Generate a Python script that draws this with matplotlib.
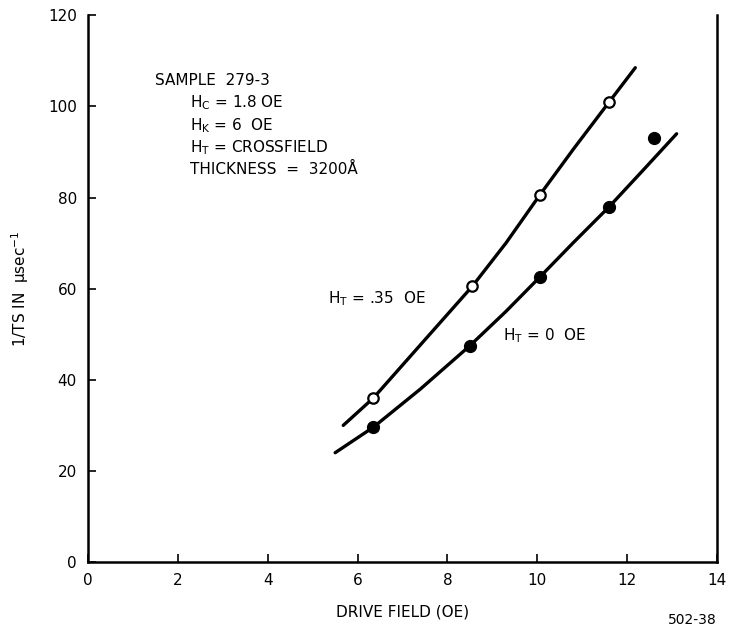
import matplotlib
matplotlib.use("Agg")
import matplotlib.pyplot as plt

plt.rcParams['font.family'] = 'DejaVu Sans'
plt.rcParams['mathtext.default'] = 'regular'

# measured points
drive_open = [6.35, 8.55, 10.05, 11.6]
rate_open = [36, 60.5, 80.5, 101]          # H_T = .35 OE
drive_filled = [6.35, 8.5, 10.05, 11.6, 12.6]
rate_filled = [29.6, 47.5, 62.5, 78, 93]   # H_T = 0 OE

# hand drawn fit curves
curve_hi_x = [5.68, 6.35, 7.4, 8.55, 9.3, 10.05, 10.8, 11.6, 12.18]
curve_hi_y = [30, 36, 47.7, 60.5, 70.0, 80.5, 90.6, 101, 108.5]
curve_lo_x = [5.5, 6.35, 7.4, 8.5, 9.3, 10.05, 10.8, 11.6, 12.4, 13.1]
curve_lo_y = [24, 29.6, 38.0, 47.5, 55.0, 62.5, 70.1, 78, 86.5, 94]

x_ticks = [0, 2, 4, 6, 8, 10, 12, 14]
y_ticks = [0, 20, 40, 60, 80, 100, 120]

fig = plt.figure(figsize=(7.4, 6.38), dpi=100)
ax = fig.add_axes([0.119, 0.119, 0.85, 0.857])

ax.plot(curve_hi_x, curve_hi_y, color='black', lw=2.4, solid_capstyle='round')
ax.plot(curve_lo_x, curve_lo_y, color='black', lw=2.4, solid_capstyle='round')
ax.plot(drive_open, rate_open, 'o', ms=7.5, mfc='white', mec='black', mew=1.6, ls='none')
ax.plot(drive_filled, rate_filled, 'o', ms=8.5, mfc='black', mec='black', ls='none')

ax.set_xlim(0, 14)
ax.set_ylim(0, 120)
ax.set_xticks(x_ticks)
ax.set_yticks(y_ticks)
ax.tick_params(direction='in', length=6, width=1.2, labelsize=11, pad=8)
ax.spines['top'].set_visible(False)
for s in ['left', 'bottom', 'right']:
    ax.spines[s].set_linewidth(1.8)

ax.set_xlabel('DRIVE FIELD (OE)', fontsize=11, labelpad=12)
ax.set_ylabel(r'1/TS IN  $\mu$sec$^{-1}$', fontsize=11, labelpad=12)

ax.text(1.5, 105.7, 'SAMPLE  279-3', fontsize=11, va='center')
ax.text(2.27, 100.8, r'$H_C$ = 1.8 OE', fontsize=11, va='center')
ax.text(2.27, 95.8, r'$H_K$ = 6  OE', fontsize=11, va='center')
ax.text(2.27, 90.9, r'$H_T$ = CROSSFIELD', fontsize=11, va='center')
ax.text(2.27, 86.2, 'THICKNESS  =  3200Å', fontsize=11, va='center')

ax.text(5.35, 57.9, r'$H_T$ = .35  OE', fontsize=11, va='center')
ax.text(9.24, 49.8, r'$H_T$ = 0  OE', fontsize=11, va='center')

fig.text(0.968, 0.017, '502-38', fontsize=10, ha='right', va='bottom')

fig.savefig('out.png', dpi=100)
